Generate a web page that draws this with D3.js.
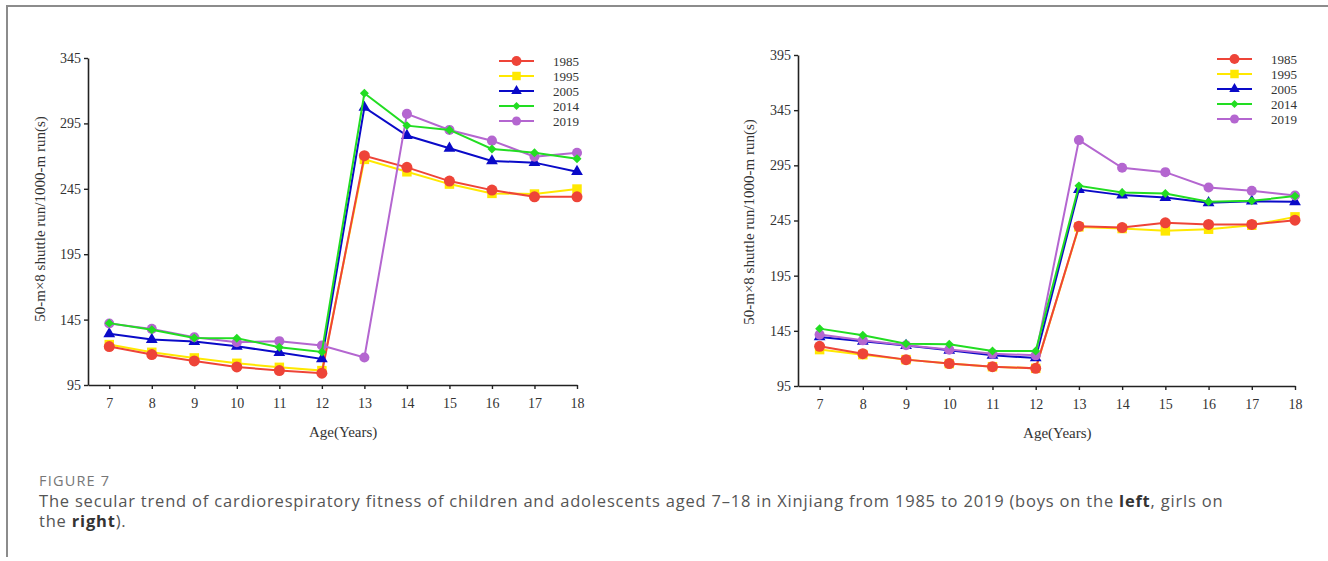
<!DOCTYPE html>
<html>
<head>
<meta charset="utf-8">
<script src="https://cdn.jsdelivr.net/npm/d3@7"></script>
<style>
  body { margin: 0; background: #fff; }
  svg { display: block; }
</style>
</head>
<body>
<div class="fig"></div>
<script>
// ages on the x axis
var ages = [7, 8, 9, 10, 11, 12, 13, 14, 15, 16, 17, 18];
var years = ['1985', '1995', '2005', '2014', '2019'];

// boys (left panel), seconds
var boys1985 = [124.4, 118.3, 113.4, 108.8, 106.0, 104.0, 270.3, 261.4, 250.9, 244.0, 238.9, 238.9];
var boys1995 = [125.9, 120.0, 115.7, 111.6, 108.5, 106.0, 267.5, 258.0, 248.6, 241.5, 241.0, 244.8];
var boys2005 = [134.1, 129.8, 128.2, 124.6, 119.8, 114.9, 307.2, 285.7, 276.0, 266.3, 265.0, 258.1];
var boys2014 = [142.3, 137.2, 131.0, 130.8, 123.9, 120.3, 318.1, 293.3, 290.0, 275.5, 272.6, 268.0];
var boys2019 = [142.0, 137.9, 131.5, 127.7, 128.5, 125.2, 116.0, 302.3, 290.0, 281.8, 269.6, 272.6];

// girls (right panel), seconds
var girls1985 = [131.0, 124.3, 118.9, 115.3, 112.5, 111.0, 239.8, 238.6, 242.9, 241.4, 241.4, 245.3];
var girls1995 = [128.0, 123.4, 118.9, 115.3, 112.5, 111.0, 239.2, 237.7, 235.6, 237.1, 240.7, 248.3];
var girls2005 = [139.5, 135.5, 131.6, 127.4, 122.8, 120.4, 273.1, 268.0, 265.8, 261.0, 262.5, 261.9];
var girls2014 = [147.0, 141.0, 133.4, 132.8, 126.8, 126.8, 276.4, 270.4, 269.5, 261.9, 262.8, 267.1];
var girls2019 = [141.6, 136.4, 131.9, 128.0, 124.3, 122.8, 317.9, 292.8, 288.8, 274.9, 271.9, 267.7];

var boysTicks = [95, 145, 195, 245, 295, 345];
var girlsTicks = [95, 145, 195, 245, 295, 345, 395];

var yLabel = '50-m\u00d78 shuttle run/1000-m run(s)';
var xLabel = 'Age(Years)';

var style = {
  '1985': {color: '#ee4438', symbol: d3.symbolCircle, size: 95, rot: 0},
  '1995': {color: '#ffe800', symbol: d3.symbolSquare, size: 90, rot: 0},
  '2005': {color: '#0a0ac8', symbol: d3.symbolTriangle, size: 60, rot: 0},
  '2014': {color: '#22dd22', symbol: d3.symbolSquare, size: 40, rot: 45},
  '2019': {color: '#b466d0', symbol: d3.symbolCircle, size: 80, rot: 0}
};
var drawOrder = ['1995', '1985', '2005', '2019', '2014'];

var width = 1328, height = 561;
var svg = d3.select('.fig').append('svg')
  .attr('width', width)
  .attr('height', height);

// frame
svg.append('path')
  .attr('d', 'M7,557V6H1328')
  .attr('fill', 'none')
  .attr('stroke', '#8c8c8c')
  .attr('stroke-width', 2);

function panel(opt) {
  var x = d3.scaleLinear().domain([6.5, 18]).range([opt.x0, opt.x1]);
  var y = d3.scaleLinear().domain(opt.yDomain).range([opt.y0, opt.y1]);
  var g = svg.append('g');

  var xa = g.append('g')
    .attr('transform', `translate(0,${opt.y0})`)
    .call(d3.axisBottom(x).tickValues(ages).tickSize(4).tickSizeOuter(0).tickPadding(9));
  var ya = g.append('g')
    .attr('transform', `translate(${opt.x0},0)`)
    .call(d3.axisLeft(y).tickValues(opt.ticks).tickSize(4).tickSizeOuter(0).tickPadding(3));
  [xa, ya].forEach(a => {
    a.select('.domain').attr('stroke', '#222').attr('stroke-width', 1.6);
    a.selectAll('.tick line').attr('stroke', '#222').attr('stroke-width', 1.4);
    a.selectAll('.tick text')
      .attr('fill', '#333')
      .style('font-family', '"Liberation Serif", serif')
      .style('font-size', '14px');
  });

  g.append('text')
    .attr('x', (x(7) + x(18)) / 2)
    .attr('y', opt.y0 + 52)
    .attr('text-anchor', 'middle')
    .attr('fill', '#333')
    .style('font-family', '"Liberation Serif", serif')
    .style('font-size', '15px')
    .text(xLabel);

  g.append('text')
    .attr('transform', `translate(${opt.labelX},${opt.labelY}) rotate(-90)`)
    .attr('text-anchor', 'middle')
    .attr('dy', '0.35em')
    .attr('fill', '#333')
    .style('font-family', '"Liberation Serif", serif')
    .style('font-size', '15px')
    .text(yLabel);

  var line = d3.line().x((d, i) => x(ages[i])).y(d => y(d));

  drawOrder.forEach(yr => {
    var s = style[yr];
    var vals = opt.series[yr];
    g.append('path')
      .datum(vals)
      .attr('fill', 'none')
      .attr('stroke', s.color)
      .attr('stroke-width', 2)
      .attr('d', line);
    g.selectAll(null)
      .data(vals)
      .enter().append('path')
      .attr('transform', (d, i) => `translate(${x(ages[i])},${y(d)}) rotate(${s.rot})`)
      .attr('d', d3.symbol().type(s.symbol).size(s.size))
      .attr('fill', s.color);
  });

  // legend
  var lg = g.append('g');
  years.forEach((yr, i) => {
    var s = style[yr];
    var ly = opt.legY + i * 15;
    lg.append('line')
      .attr('x1', opt.legX).attr('x2', opt.legX + 35)
      .attr('y1', ly).attr('y2', ly)
      .attr('stroke', s.color).attr('stroke-width', 2);
    lg.append('path')
      .attr('transform', `translate(${opt.legX + 17.5},${ly}) rotate(${s.rot})`)
      .attr('d', d3.symbol().type(s.symbol).size(s.size * 0.8))
      .attr('fill', s.color);
    lg.append('text')
      .attr('x', opt.legX + 54)
      .attr('y', ly)
      .attr('dy', '0.35em')
      .attr('fill', '#333')
      .style('font-family', '"Liberation Serif", serif')
      .style('font-size', '13px')
      .text(yr);
  });
}

panel({
  x0: 88, x1: 577, y0: 385, y1: 58,
  yDomain: [95, 345], ticks: boysTicks,
  labelX: 40, labelY: 219,
  legX: 499, legY: 61,
  series: {'1985': boys1985, '1995': boys1995, '2005': boys2005, '2014': boys2014, '2019': boys2019}
});

panel({
  x0: 798, x1: 1295, y0: 386, y1: 55,
  yDomain: [95, 395], ticks: girlsTicks,
  labelX: 749, labelY: 222,
  legX: 1217, legY: 59,
  series: {'1985': girls1985, '1995': girls1995, '2005': girls2005, '2014': girls2014, '2019': girls2019}
});

// caption
var cap = svg.append('g')
  .style('font-family', '"Open Sans", "Noto Sans", sans-serif');
cap.append('text')
  .attr('x', 39).attr('y', 486)
  .attr('fill', '#777')
  .style('font-size', '14.5px')
  .style('letter-spacing', '1.2px')
  .text('FIGURE 7');
var l1 = cap.append('text')
  .attr('x', 39).attr('y', 507)
  .attr('fill', '#555')
  .style('font-size', '16.5px')
  .style('letter-spacing', '0.8px');
l1.append('tspan').text('The secular trend of cardiorespiratory fitness of children and adolescents aged 7\u201318 in Xinjiang from 1985 to 2019 (boys on the ');
l1.append('tspan').style('font-weight', 'bold').attr('fill', '#333').text('left');
l1.append('tspan').text(', girls on');
var l2 = cap.append('text')
  .attr('x', 39).attr('y', 527)
  .attr('fill', '#555')
  .style('font-size', '16.5px')
  .style('letter-spacing', '0.8px');
l2.append('tspan').text('the ');
l2.append('tspan').style('font-weight', 'bold').attr('fill', '#333').text('right');
l2.append('tspan').text(').');
</script>
</body>
</html>
